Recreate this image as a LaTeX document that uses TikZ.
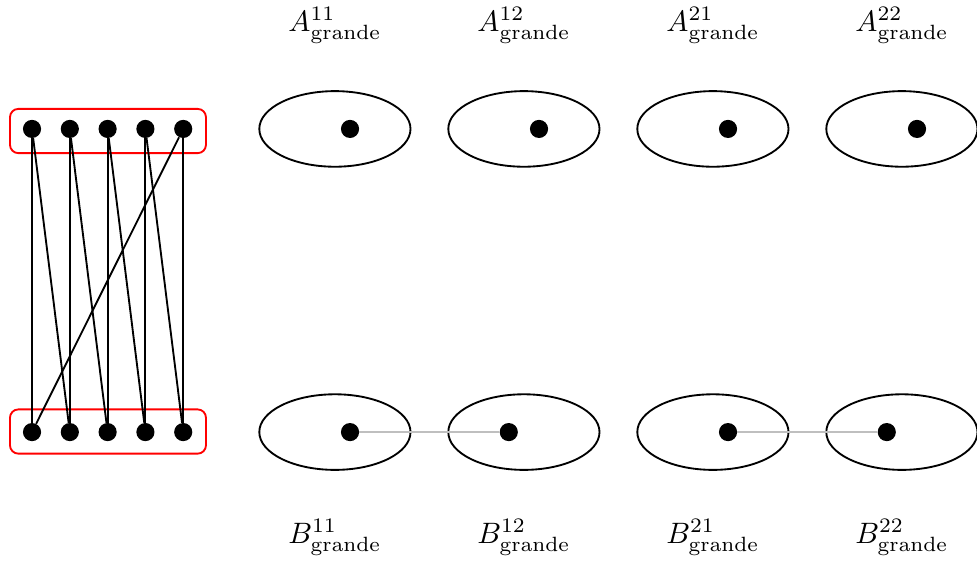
\documentclass[tikz,border=0pt]{standalone}
\usetikzlibrary{shapes.geometric}
\begin{document}
\begin{tikzpicture}[
 dot/.style={circle,fill=black,inner sep=0pt,minimum size=0.48cm},
 blob/.style={ellipse,draw,line width=1.4pt,minimum width=4cm,minimum height=2cm,inner sep=0pt},
 link/.style={line width=1.4pt},
 glink/.style={line width=1.4pt,black!25},
 grp/.style={draw=red,line width=1.4pt,rounded corners=0.22cm,inner sep=0pt,minimum width=5.185cm,minimum height=1.17cm},
 lbl/.style={scale=2.22,transform shape,inner sep=0pt}
]
\useasboundingbox (0,0) rectangle (25.847,14.841);
% left groups
\node[grp] (topgrp) at (2.857,11.375) {};
\node[grp] (botgrp) at (2.857,3.425) {};
\foreach \i in {1,...,5}{
  \node[dot] (t\i) at ({-0.153+\i},11.43) {};
  \node[dot] (b\i) at ({-0.153+\i},3.41) {};
}
\foreach \i in {1,...,5} \draw[link] (t\i) -- (b\i);
\draw[link] (t1) -- (b2);
\draw[link] (t2) -- (b3);
\draw[link] (t3) -- (b4);
\draw[link] (t4) -- (b5);
\draw[link] (t5) -- (b1);
% ellipses
\foreach \n/\x in {11/8.86,12/13.86,21/18.86,22/23.86}{
  \node[blob] (EA\n) at (\x,11.43) {};
  \node[blob] (EB\n) at (\x,3.41) {};
  \node[lbl] (LA\n) at (\x,14.17) {$A^{\n}_{\mathrm{grande}}$};
  \node[lbl] (LB\n) at (\x,0.62) {$B^{\n}_{\mathrm{grande}}$};
}
\node[dot] (a11) at (9.26,11.43) {};
\node[dot] (a12) at (14.26,11.43) {};
\node[dot] (a21) at (19.26,11.43) {};
\node[dot] (a22) at (24.26,11.43) {};
\node[dot] (p11) at (9.26,3.41) {};
\node[dot] (p12) at (13.46,3.41) {};
\node[dot] (p21) at (19.26,3.41) {};
\node[dot] (p22) at (23.46,3.41) {};
\draw[glink] (p11) -- (p12);
\draw[glink] (p21) -- (p22);
\end{tikzpicture}
\end{document}
